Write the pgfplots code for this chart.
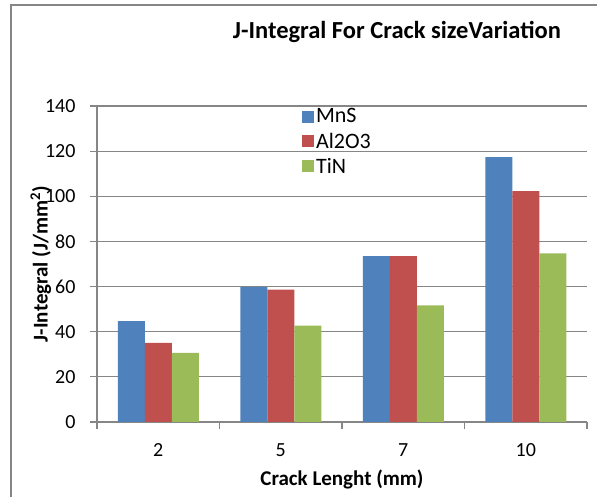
\documentclass[border=0pt]{standalone}
\usepackage{pgfplots}
\pgfplotsset{compat=1.18}
\usepackage{fontspec}
\setmainfont{Carlito}
\definecolor{cBlue}{HTML}{4F81BD}
\definecolor{cRed}{HTML}{C0504D}
\definecolor{cGreen}{HTML}{9BBB59}
\definecolor{cGrid}{HTML}{868686}
\begin{document}
\begin{tikzpicture}[x=1pt,y=1pt]
\useasboundingbox (0,0) rectangle (597,497);
\draw[cGrid, line width=1.5pt] (11,0) -- (11,492) -- (597,492);
\node[font=\fontsize{24.5}{28}\selectfont\bfseries] at (397,465) {J-Integral For Crack sizeVariation};
\begin{axis}[
  at={(97pt,75pt)}, anchor=south west,
  scale only axis, width=490pt, height=316pt,
  ybar=0pt, bar width=27pt,
  xmin=0.5, xmax=4.5, ymin=0, ymax=140,
  ytick={0,20,...,140},
  xtick={0.5,1.5,2.5,3.5,4.5},
  xticklabels={2,5,7,10,},
  xticklabel style={xshift=61.25pt, yshift=-11pt},
  yticklabel style={xshift=-11pt},
  axis x line*=bottom, axis y line*=left,
  axis line style={cGrid, line width=1.2pt, -},
  tick style={cGrid, line width=1.2pt},
  tick align=outside, major tick length=7pt,
  ymajorgrids, grid style={cGrid, line width=1.2pt},
  tick label style={font=\fontsize{20}{23}\selectfont},
  /pgf/number format/assume math mode=true,
  xlabel={\textbf{Crack Lenght (mm)}},
  ylabel={\textbf{J-Integral (J/mm\textsuperscript{2})}},
  label style={font=\fontsize{21}{24}\selectfont},
  xlabel style={yshift=-6pt},
  ylabel style={yshift=-13pt},
  legend style={draw=none, fill=none, at={(0.412,1.005)}, anchor=north west,
    font=\fontsize{22}{25}\selectfont, row sep=4.5pt},
  legend cell align=left,
  legend image code/.code={\fill[#1] (0pt,-6pt) rectangle (12pt,6pt);},
]
\addplot[fill=cBlue, draw=none] coordinates {(1,44.7) (2,59.9) (3,73.5) (4,117.3)};
\addplot[fill=cRed, draw=none] coordinates {(1,35.1) (2,58.6) (3,73.5) (4,102.3)};
\addplot[fill=cGreen, draw=none] coordinates {(1,30.6) (2,42.7) (3,51.7) (4,74.7)};
\legend{MnS, Al2O3, TiN}
\end{axis}
\end{tikzpicture}
\end{document}
